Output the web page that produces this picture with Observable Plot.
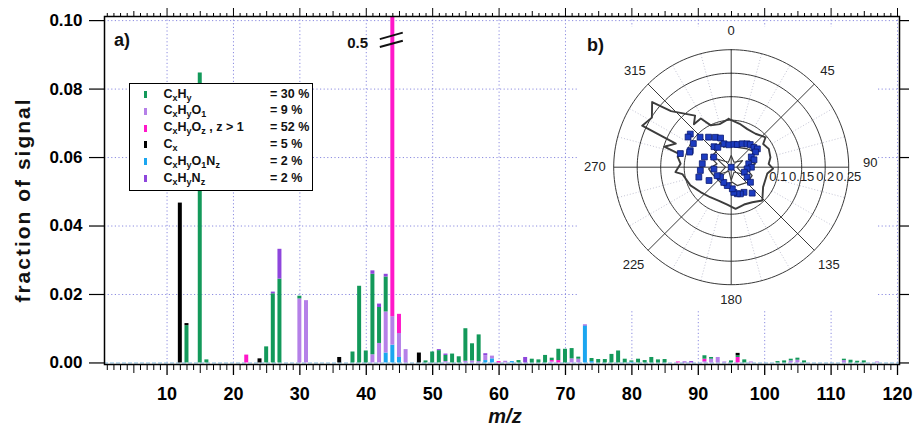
<!DOCTYPE html>
<html><head><meta charset="utf-8">
<script src="https://cdn.jsdelivr.net/npm/d3@7"></script>
<script src="https://cdn.jsdelivr.net/npm/@observablehq/plot@0.6"></script>
<style>
body{margin:0;background:#fff;font-family:"Liberation Sans",Arial,sans-serif;}
#wrap{position:relative;width:916px;height:427px;overflow:hidden;background:#fff;}
#wrap svg{position:absolute;left:0;top:0;}
.abs{position:absolute;white-space:nowrap;}
.legend{position:absolute;left:129px;top:83px;width:182px;height:106px;border:1.5px solid #000;background:#fff;}
.row{position:absolute;height:14px;line-height:14px;font-size:12.5px;font-weight:bold;color:#111;}
.sw{position:absolute;width:3.5px;height:7px;}
sub{font-size:9px;vertical-align:-3px;line-height:0;}
</style></head><body><div id="wrap"></div><script>
// ---------- main chart data (m/z, fraction of signal) ----------
const CxHyO1Nz = [[43,0.0029],[44,0.0052],[45,0.0016],[58,0.0007],[59,0.0012],[62,0.0004],[73,0.0108],[74,0.0004],[80,0.0002]];
const CxHyO1 = [[30,0.0187],[31,0.0182],[41,0.0024],[42,0.0057],[43,0.0120],[44,0.0083],[45,0.0070],[46,0.0039],[52,0.0004],[55,0.0005],[56,0.0006],[57,0.0004],[58,0.0014],[59,0.0008],[61,0.0005],[68,0.0003],[71,0.0012],[72,0.0011],[91,0.0004],[92,0.0011],[93,0.0016],[94,0.0003],[98,0.0003],[104,0.0006],[105,0.0008],[112,0.0007],[117,0.0003]];
const CxHyOz = [[22,0.0023],[44,0.485],[45,0.0056],[60,0.0004],[68,0.0004],[69,0.0007],[87,0.0003],[91,0.0007],[96,0.0016]];
const CxHy = [[13,0.0109],[15,0.0847],[16,0.0009],[25,0.0047],[26,0.0202],[27,0.0245],[30,0.0008],[38,0.0032],[39,0.0224],[40,0.0035],[41,0.0235],[42,0.0105],[43,0.0102],[49,0.0006],[50,0.0032],[51,0.0036],[52,0.0018],[53,0.0026],[54,0.0018],[55,0.0095],[56,0.0050],[57,0.0078],[63,0.0007],[65,0.0011],[66,0.0009],[67,0.0022],[68,0.0007],[69,0.0033],[70,0.0040],[71,0.0030],[72,0.0006],[74,0.0009],[75,0.0010],[76,0.0010],[77,0.0025],[78,0.0035],[79,0.0011],[80,0.0004],[81,0.0011],[82,0.0007],[83,0.0016],[84,0.0009],[85,0.0010],[91,0.0010],[92,0.0005],[95,0.0006],[96,0.0005],[97,0.0009],[102,0.0004],[103,0.0006],[104,0.0005],[105,0.0006],[106,0.0006],[112,0.0004],[113,0.0008],[114,0.0005],[115,0.0006]];
const CxHyNz = [[26,0.0005],[27,0.0087],[41,0.0010],[42,0.0010],[43,0.0008],[51,0.0003],[52,0.0004],[58,0.0006],[64,0.0016],[73,0.0003],[88,0.0003],[89,0.0004]];
const Cx = [[12,0.0467],[13,0.0006],[24,0.0012],[36,0.0016],[48,0.0029],[96,0.0007]];

const seriesOrder = ["CxHyO1Nz","CxHyO1","CxHyOz","CxHy","CxHyNz","Cx"];
const seriesColor = ["#1ba6f0","#b580e8","#ff17c9","#13995a","#8e46dc","#000000"];
const seriesData = [CxHyO1Nz, CxHyO1, CxHyOz, CxHy, CxHyNz, Cx];

const xMajor = [10,20,30,40,50,60,70,80,90,100,110,120];
const xMedium = [5,15,25,35,45,55,65,75,85,95,105,115];
const xMinor = d3.range(1,121).filter(d => d % 5 !== 0);
const yTicks = [0,0.02,0.04,0.06,0.08,0.10];
const yGrid = [0.02,0.04,0.06,0.08,0.10];

// legend
const legendLabels = ["C<sub>x</sub>H<sub>y</sub>","C<sub>x</sub>H<sub>y</sub>O<sub>1</sub>","C<sub>x</sub>H<sub>y</sub>O<sub>z</sub> , z &gt; 1","C<sub>x</sub>","C<sub>x</sub>H<sub>y</sub>O<sub>1</sub>N<sub>z</sub>","C<sub>x</sub>H<sub>y</sub>N<sub>z</sub>"];
const legendKeys = ["CxHy","CxHyO1","CxHyOz","Cx","CxHyO1Nz","CxHyNz"];
const legendPct = ["= 30 %","= 9 %","= 52 %","= 5 %","= 2 %","= 2 %"];

// break annotation on the m/z 44 bar (value 0.5)
const breakLabel = [{mz:38.7, v:0.0934, t:"0.5"}];
const breakMarks = [{x1:42.04,y1:0.0946,x2:45.5,y2:0.0965},{x1:42.04,y1:0.0923,x2:45.5,y2:0.0941}];

// ---------- polar inset data: [angle (deg), radius] ----------
const outerLine = [[357,0.103],[11,0.094],[23,0.088],[36,0.088],[49,0.097],[54,0.084],[64,0.089],[76,0.086],[85,0.080],[92,0.089],[100,0.078],[122,0.080],[137,0.097],[149,0.087],[161,0.084],[174,0.089],[186,0.080],[200,0.076],[215,0.078],[231,0.084],[246,0.095],[262,0.105],[265,0.119],[274,0.108],[281,0.116],[284,0.111],[287,0.149],[293,0.128],[295,0.209],[302,0.199],[309.5,0.218],[313,0.175],[325,0.134],[319,0.121],[328,0.122],[334,0.099],[345,0.095],[357,0.103]];
const innerLine = [[0,0.053],[17,0.044],[41,0.052],[56,0.058],[67,0.041],[82,0.052],[90,0.030],[112,0.048],[133,0.047],[162,0.041],[176,0.032],[202,0.042],[223,0.039],[251,0.043],[266,0.048],[283,0.031],[296,0.049],[314,0.046],[336,0.058],[340,0.045],[360,0.053]];
const innerStar = [[0,0.025],[30,0.012],[60,0.028],[90,0.012],[120,0.030],[150,0.012],[180,0.028],[210,0.010],[240,0.030],[270,0.012],[300,0.035],[330,0.012],[360,0.025]];
const squares = [[309,0.112],[305,0.112],[302,0.095],[292,0.094],[285,0.112],[314,0.092],[323,0.080],[332,0.072],[340,0.066],[320,0.057],[326,0.051],[343,0.052],[354,0.048],[7,0.049],[15,0.050],[25,0.055],[34,0.060],[40,0.063],[49,0.064],[55,0.068],[58,0.061],[63,0.048],[72,0.051],[79,0.038],[90,0.043],[96,0.034],[111,0.030],[122,0.040],[128,0.052],[141,0.071],[153,0.060],[161,0.060],[167,0.058],[174,0.054],[177,0.046],[192,0.040],[206,0.036],[227,0.031],[239,0.035],[264,0.037],[239,0.055],[253,0.072],[264,0.066],[277,0.062],[291,0.061],[290,0.094],[300,0.043],[0,0]];
const rings = [0.1,0.15,0.2,0.25];
const ringLabels = ["0.1","0.15","0.2","0.25"];
const spokeAngles = [0,45,90,135,180,225,270,315];
const dotSpokes = d3.range(15,360,15).filter(a => a % 45 !== 0);
const angleLabels = [[0,0.291,"0"],[45,0.29,"45"],[88,0.296,"90"],[135,0.294,"135"],[180,0.282,"180"],[225,0.294,"225"],[270,0.29,"270"],[315,0.29,"315"]];

// ---------- build main chart ----------
const rows = [];
seriesData.forEach((arr, i) => arr.forEach(([mz, v]) => rows.push({mz, v, name: seriesOrder[i]})));

const font = "Liberation Sans, Arial, sans-serif";
const main = Plot.plot({
  width: 916, height: 427,
  marginLeft: 104, marginRight: 17, marginTop: 16, marginBottom: 63,
  style: {fontFamily: font, background: "transparent", overflow: "visible"},
  x: {domain: [0.58, 120.3], axis: null},
  y: {domain: [-0.00045, 0.1012], axis: null},
  color: {domain: seriesOrder, range: seriesColor},
  marks: [
    Plot.gridX({ticks: xMajor, stroke: "#8c8ce0", strokeOpacity: 1, strokeWidth: 1, strokeDasharray: "1.2,2.4"}),
    Plot.gridY({ticks: yGrid, stroke: "#8c8ce0", strokeOpacity: 1, strokeWidth: 1, strokeDasharray: "1.2,2.4"}),
    Plot.ruleY([0], {stroke: "#86bde0", strokeWidth: 1, strokeDasharray: "4,2"}),
    Plot.rectY(rows, {x1: d => d.mz - 0.3, x2: d => d.mz + 0.3, y: "v", fill: "name", clip: true}),
    Plot.link(breakMarks, {x1: "x1", y1: "y1", x2: "x2", y2: "y2", stroke: "#111", strokeWidth: 2}),
    Plot.text(breakLabel, {x: "mz", y: "v", text: "t", fontSize: 15, fontWeight: "bold", fill: "#111"}),
    Plot.axisX({ticks: xMinor, tickSize: 6, tickFormat: () => "", label: null, strokeWidth: 1}),
    Plot.axisX({ticks: xMedium, tickSize: 9, tickFormat: () => "", label: null, strokeWidth: 1}),
    Plot.axisX({ticks: xMajor, tickSize: 11, tickPadding: 12, tickFormat: d => String(d), fontSize: 18, fontWeight: "bold", label: null, strokeWidth: 1.3}),
    Plot.axisX({anchor: "top", ticks: xMinor, tickSize: 4, tickFormat: () => "", label: null}),
    Plot.axisX({anchor: "top", ticks: xMedium, tickSize: 6, tickFormat: () => "", label: null}),
    Plot.axisX({anchor: "top", ticks: xMajor, tickSize: 9, tickFormat: () => "", label: null}),
    Plot.axisY({ticks: yTicks, tickSize: 15, tickPadding: 7, tickFormat: d3.format(".2f"), fontSize: 17, fontWeight: "bold", label: null, strokeWidth: 1.2}),
    Plot.axisY({anchor: "right", ticks: yTicks, tickSize: 9, tickFormat: () => "", label: null, strokeWidth: 1.2}),
    Plot.frame({stroke: "#000", strokeWidth: 1.5})
  ]
});

// ---------- polar inset ----------
const rad = a => a * Math.PI / 180;
const px = d => d[1] * Math.sin(rad(d[0]));
const py = d => d[1] * Math.cos(rad(d[0]));
const ringPts = rings.flatMap(r => d3.range(0, 361, 2).map(a => [a, r]));
const polar = Plot.plot({
  width: 322, height: 315,
  marginLeft: 36.2, marginRight: 50.8, marginTop: 49.2, marginBottom: 30.8,
  style: {fontFamily: font, background: "transparent", overflow: "visible"},
  x: {domain: [-0.25, 0.25], axis: null},
  y: {domain: [-0.25, 0.25], axis: null},
  marks: [
    Plot.link(dotSpokes, {x1: a => 0.1 * Math.sin(rad(a)), y1: a => 0.1 * Math.cos(rad(a)), x2: a => 0.25 * Math.sin(rad(a)), y2: a => 0.25 * Math.cos(rad(a)), stroke: "#c4c4d4", strokeWidth: 1, strokeDasharray: "1,2"}),
    Plot.line(ringPts, {x: px, y: py, z: d => d[1], stroke: "#222", strokeWidth: 0.9}),
    Plot.link(spokeAngles, {x1: 0, y1: 0, x2: a => 0.25 * Math.sin(rad(a)), y2: a => 0.25 * Math.cos(rad(a)), stroke: "#222", strokeWidth: 0.9}),
    Plot.line(innerStar, {x: px, y: py, stroke: "#3c3c3c", strokeWidth: 1.1}),
    Plot.line(innerLine, {x: px, y: py, stroke: "#3c3c3c", strokeWidth: 1.3}),
    Plot.line(outerLine, {x: px, y: py, stroke: "#3c3c3c", strokeWidth: 1.9}),
    Plot.dot(squares, {x: px, y: py, symbol: "square", r: 3.3, fill: "#1d3cc0", stroke: "#0b1a70", strokeWidth: 0.8}),
    Plot.text(angleLabels, {x: px, y: py, text: d => d[2], fontSize: 13, fill: "#222"}),
    Plot.text(rings, {x: r => r, y: -0.0213, text: (r, i) => ringLabels[i], fontSize: 13, fill: "#222"})
  ]
});

// ---------- assemble ----------
const wrap = document.getElementById("wrap");
wrap.appendChild(main);
const bg = document.createElement("div");
bg.className = "abs";
Object.assign(bg.style, {left: "577px", top: "27px", width: "300px", height: "284px", background: "#fff"});
wrap.appendChild(bg);
polar.style.left = "577px";
wrap.appendChild(polar);

const leg = document.createElement("div");
leg.className = "legend";
legendLabels.forEach((lab, i) => {
  const c = 10.5 + i * 16.8;
  const sw = document.createElement("div");
  sw.className = "sw";
  Object.assign(sw.style, {left: "13.8px", top: (c - 3.5) + "px", background: seriesColor[seriesOrder.indexOf(legendKeys[i])]});
  leg.appendChild(sw);
  const t = document.createElement("div");
  t.className = "row";
  t.style.left = "33.5px"; t.style.top = (c - 8) + "px";
  t.innerHTML = lab;
  leg.appendChild(t);
  const p = document.createElement("div");
  p.className = "row";
  p.style.left = "140px"; p.style.top = (c - 8) + "px";
  p.textContent = legendPct[i];
  leg.appendChild(p);
});
wrap.appendChild(leg);

function label(text, css) {
  const d = document.createElement("div");
  d.className = "abs";
  d.innerHTML = text;
  Object.assign(d.style, css);
  wrap.appendChild(d);
}
label("a)", {left: "114px", top: "30px", fontSize: "18px", fontWeight: "bold", color: "#111"});
label("b)", {left: "587px", top: "35px", fontSize: "18px", fontWeight: "bold", color: "#111"});
label("fraction of signal", {left: "23px", top: "200px", fontSize: "21px", fontWeight: "bold", letterSpacing: "2px", color: "#111", transform: "translate(-50%,-50%) rotate(-90deg)"});
label("m/z", {left: "505px", top: "416px", fontSize: "20px", fontWeight: "bold", fontStyle: "italic", color: "#111", transform: "translate(-50%,-50%)"});
</script></body></html>
